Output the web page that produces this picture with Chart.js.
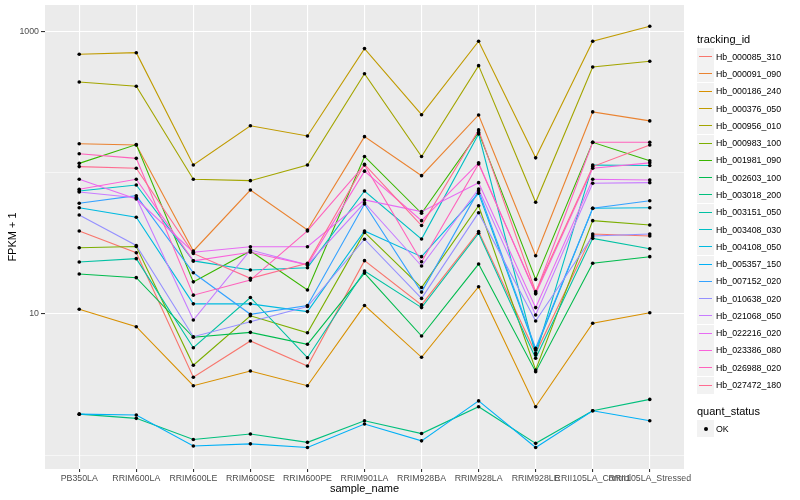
<!DOCTYPE html>
<html>
<head>
<meta charset="utf-8">
<script src="https://cdn.jsdelivr.net/npm/chart.js@4.4.1/dist/chart.umd.min.js"></script>
<style>
  body { margin: 0; background: #fff; }
  #wrap { position: relative; width: 800px; height: 500px; font-family: "Liberation Sans", Arial, sans-serif; }
  #chart { position: absolute; left: 0; top: 0; }
  .lg-title { position: absolute; left: 697px; font-size: 11px; color: #000; line-height: 13px; white-space: nowrap; }
  .lg-key { position: absolute; left: 697px; width: 17px; height: 17px; background: #F2F2F2; }
  .lg-line { position: absolute; left: 2px; right: 2px; top: 7.5px; height: 1.6px; }
  .lg-dot { position: absolute; left: 6.5px; top: 6.5px; width: 4px; height: 4px; border-radius: 50%; background: #000; }
  .lg-label { position: absolute; left: 716px; font-size: 8.8px; color: #000; line-height: 10px; white-space: nowrap; }
</style>
</head>
<body>
<div id="wrap">
  <canvas id="chart" width="800" height="500"></canvas>
  <div id="legend"></div>
</div>
<script>
// sample names on the x axis
const categories = ['PB350LA', 'RRIM600LA', 'RRIM600LE', 'RRIM600SE', 'RRIM600PE', 'RRIM901LA',
  'RRIM928BA', 'RRIM928LA', 'RRIM928LE', 'RRII105LA_Control', 'RRII105LA_Stressed'];

const trackingIds = ['Hb_000085_310', 'Hb_000091_090', 'Hb_000186_240', 'Hb_000376_050', 'Hb_000956_010',
  'Hb_000983_100', 'Hb_001981_090', 'Hb_002603_100', 'Hb_003018_200', 'Hb_003151_050',
  'Hb_003408_030', 'Hb_004108_050', 'Hb_005357_150', 'Hb_007152_020', 'Hb_010638_020',
  'Hb_021068_050', 'Hb_022216_020', 'Hb_023386_080', 'Hb_026988_020', 'Hb_027472_180'];

// FPKM + 1, one array per gene, in category order
const hb000085_310 = [38.8, 27.2, 3.56, 6.44, 4.28, 23.9, 11.6, 38.4, 5.26, 36.9, 35.7];
const hb000091_090 = [161, 158, 28.0, 75.7, 39.4, 181, 95.7, 258, 25.9, 271, 234];
const hb000186_240 = [10.8, 8.13, 3.10, 3.94, 3.10, 11.5, 4.93, 15.6, 2.20, 8.59, 10.2];
const hb000376_050 = [695, 713, 114, 216, 183, 762, 259, 859, 128, 859, 1097];
const hb000956_010 = [442, 412, 90.2, 88.2, 114, 506, 131, 577, 62.0, 565, 620];
const hb000983_100 = [29.5, 30.1, 4.33, 9.72, 7.36, 37.9, 15.4, 58.6, 4.01, 45.9, 42.8];
const hb001981_090 = [117, 159, 16.9, 28.0, 14.8, 131, 51.8, 194, 17.6, 165, 122];
const hb002603_100 = [19.2, 18.1, 6.84, 7.41, 6.10, 19.5, 6.98, 22.6, 3.90, 22.9, 25.5];
const hb003018_200 = [1.95, 1.82, 1.29, 1.41, 1.23, 1.75, 1.42, 2.20, 1.21, 2.06, 2.48];
const hb003151_050 = [23.4, 24.7, 5.77, 13.1, 4.90, 20.2, 11.1, 37.4, 4.85, 34.4, 29.0];
const hb003408_030 = [74.5, 82.2, 23.8, 20.5, 21.3, 74.5, 34.0, 189, 5.12, 114, 113];
const hb004108_050 = [56.7, 48.5, 11.8, 11.8, 10.4, 38.8, 25.5, 71.8, 5.56, 56.2, 56.7];
const hb005357_150 = [1.95, 1.92, 1.16, 1.20, 1.13, 1.66, 1.26, 2.42, 1.13, 2.06, 1.75];
const hb007152_020 = [61.0, 69.0, 19.6, 9.95, 11.5, 60.3, 14.3, 74.9, 5.71, 56.2, 63.6];
const hb010638_020 = [50.4, 30.6, 6.90, 8.81, 11.3, 33.9, 12.9, 52.3, 8.92, 35.7, 36.9];
const hb021068_050 = [73.3, 66.8, 9.07, 28.4, 22.3, 61.5, 21.9, 77.0, 9.84, 84.5, 85.4];
const hb022216_020 = [90.2, 65.4, 27.4, 30.0, 30.0, 64.4, 53.2, 85.4, 11.1, 90.2, 89.2];
const hb023386_080 = [76.6, 90.2, 23.8, 27.4, 22.3, 103, 45.9, 118, 13.9, 108, 118];
const hb026988_020 = [137, 127, 13.6, 17.4, 38.8, 114, 23.5, 116, 14.1, 165, 165];
const hb027472_180 = [111, 108, 26.9, 17.9, 22.9, 115, 42.4, 202, 14.4, 111, 158];

const seriesValues = [hb000085_310, hb000091_090, hb000186_240, hb000376_050, hb000956_010,
  hb000983_100, hb001981_090, hb002603_100, hb003018_200, hb003151_050,
  hb003408_030, hb004108_050, hb005357_150, hb007152_020, hb010638_020,
  hb021068_050, hb022216_020, hb023386_080, hb026988_020, hb027472_180];

// y axis (log10)
const yGridValues = [1, 10, 100, 1000];
const yLabelValues = [10, 1000];
const yMin = 0.796;
const yMax = 1553;

// ggplot default hue palette for 20 groups
const seriesColors = ['#F8766D', '#EA8331', '#D89000', '#C09B00', '#A3A500', '#7CAE00', '#39B600',
  '#00BB4E', '#00BF7D', '#00C1A3', '#00BFC4', '#00BAE0', '#00B0F6', '#35A2FF', '#9590FF',
  '#C77CFF', '#E76BF3', '#FA62DB', '#FF62BC', '#FF6C91'];

const AXIS_TEXT = '#4D4D4D';
const FONT = '"Liberation Sans", Arial, sans-serif';

// grey panel behind the grid
const panelBg = {
  id: 'panelBg',
  beforeDraw(chart) {
    const { ctx, chartArea: a } = chart;
    ctx.save();
    ctx.fillStyle = '#EBEBEB';
    ctx.fillRect(a.left, a.top, a.right - a.left, a.bottom - a.top);
    ctx.restore();
  }
};

const toPoints = vals => vals.map((v, i) => ({ x: i, y: v }));

// lines: later genes on top, like ggplot
const lineSets = seriesValues.map((vals, i) => ({
  label: trackingIds[i],
  data: toPoints(vals),
  borderColor: seriesColors[i],
  borderWidth: 1.1,
  pointRadius: 0,
  fill: false,
  tension: 0,
  order: seriesValues.length - i
}));

// all points in black on top (quant_status = OK)
const pointSet = {
  label: 'OK',
  data: seriesValues.flatMap(toPoints),
  showLine: false,
  pointRadius: 1.8,
  pointBackgroundColor: '#000',
  pointBorderWidth: 0,
  order: 0
};

Chart.defaults.font.family = FONT;

new Chart(document.getElementById('chart').getContext('2d'), {
  type: 'line',
  data: { datasets: [pointSet, ...lineSets] },
  options: {
    responsive: false,
    animation: false,
    events: [],
    layout: { padding: { left: 0, right: 116, top: 5, bottom: 0 } },
    plugins: { legend: { display: false }, tooltip: { enabled: false } },
    scales: {
      x: {
        type: 'linear',
        min: -0.6,
        max: 10.6,
        afterBuildTicks: s => { s.ticks = categories.map((c, i) => ({ value: i })); },
        afterFit: s => { s.height = 31; s.paddingLeft = 0; s.paddingRight = 0; },
        ticks: {
          callback: v => categories[v],
          autoSkip: false, maxRotation: 0, minRotation: 0,
          color: AXIS_TEXT, font: { size: 8.8 }, padding: 1
        },
        grid: { color: '#fff', lineWidth: 1.1, tickLength: 3, tickColor: '#333' },
        border: { display: false },
        title: { display: true, text: 'sample_name', color: '#000', font: { size: 11 }, padding: { top: 2, bottom: 4 } }
      },
      y: {
        type: 'logarithmic',
        min: yMin,
        max: yMax,
        afterBuildTicks: s => { s.ticks = yGridValues.map(v => ({ value: v })); },
        afterFit: s => { s.width = 45; s.paddingTop = 0; s.paddingBottom = 0; },
        ticks: {
          callback: v => yLabelValues.includes(v) ? String(v) : '',
          autoSkip: false,
          color: AXIS_TEXT, font: { size: 8.8 }, padding: 2
        },
        grid: {
          color: '#fff',
          lineWidth: c => (c.tick && yLabelValues.includes(c.tick.value)) ? 1.1 : 0.55,
          tickLength: 4,
          tickColor: c => (c.tick && yLabelValues.includes(c.tick.value)) ? '#333' : 'rgba(0,0,0,0)'
        },
        border: { display: false },
        title: { display: true, text: 'FPKM + 1', color: '#000', font: { size: 11 }, padding: { top: 6, bottom: 2 } }
      }
    }
  },
  plugins: [panelBg]
});

// ggplot style legends on the right
const legend = document.getElementById('legend');
const rowStep = 17.28;
const firstRow = 56.7;

function addTitle(text, cy) {
  const t = document.createElement('div');
  t.className = 'lg-title';
  t.style.top = Math.round(cy - 6.5) + 'px';
  t.textContent = text;
  legend.appendChild(t);
}

function addRow(text, cy, color) {
  const key = document.createElement('div');
  key.className = 'lg-key';
  key.style.top = Math.round(cy - 8.5) + 'px';
  const mark = document.createElement('div');
  if (color) {
    mark.className = 'lg-line';
    mark.style.background = color;
  } else {
    mark.className = 'lg-dot';
  }
  key.appendChild(mark);
  legend.appendChild(key);
  const lab = document.createElement('div');
  lab.className = 'lg-label';
  lab.style.top = Math.round(cy - 5) + 'px';
  lab.textContent = text;
  legend.appendChild(lab);
}

addTitle('tracking_id', 39.5);
trackingIds.forEach((id, i) => addRow(id, firstRow + i * rowStep, seriesColors[i]));
addTitle('quant_status', 411.5);
addRow('OK', 428.5, null);
</script>
</body>
</html>
